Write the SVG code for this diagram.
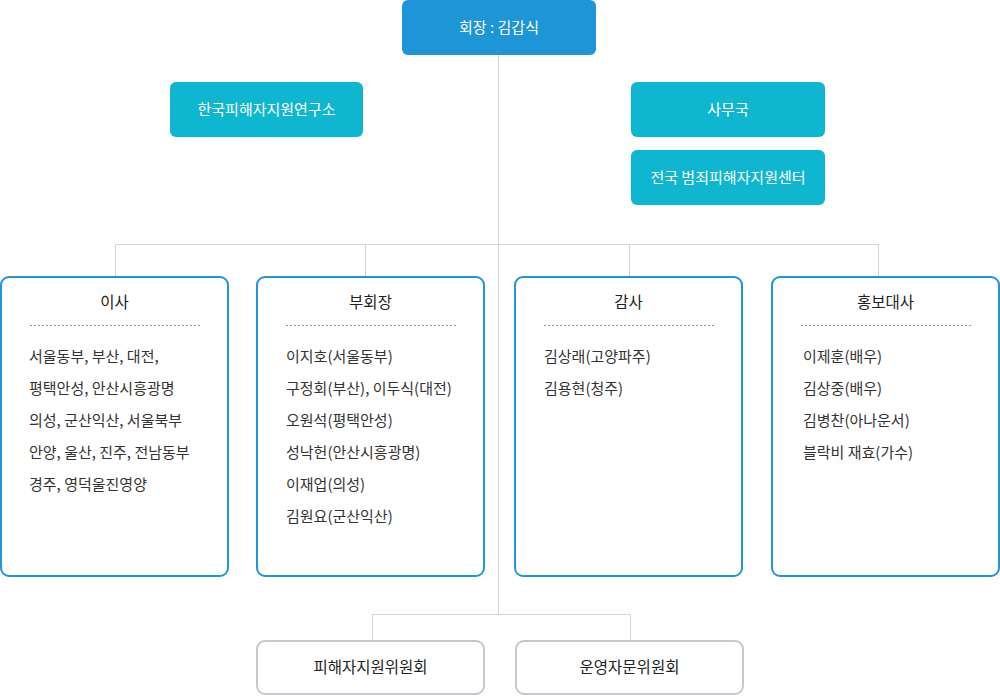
<svg xmlns="http://www.w3.org/2000/svg" width="1000" height="696" viewBox="0 0 1000 696">
<style>
text{font-family:"Noto Sans CJK KR","Noto Sans",sans-serif;font-size:15px;fill:#333}
.w{fill:#fff;text-anchor:middle;font-size:15px}
.t{text-anchor:middle;font-size:15.5px;fill:#222}
.c{fill:none;stroke:#d4d4d4;stroke-width:1}
.bb{fill:#fff;stroke:#1e95d6;stroke-width:2}
.gb{fill:#fff;stroke:#c4c7cc;stroke-width:2}
.dot{stroke:#999;stroke-width:1;stroke-dasharray:2 2}
</style>
<rect width="1000" height="696" fill="#fff"/>
<g id="connectors">
<path class="c" d="M498.5 55V614M115.5 277V244.5H878.5V277M365.5 244.5V277M629.5 244.5V277M372.5 641V614.5H630.5V641"/>
</g>
<g id="president"><rect x="402" y="0" width="194" height="55" rx="6" fill="#1e95d6"/><text class="w" x="499" y="33">회장 : 김갑식</text></g>
<g id="institute"><rect x="170" y="82" width="193" height="55" rx="6" fill="#0fb6cf"/><text class="w" x="266.5" y="115">한국피해자지원연구소</text></g>
<g id="office"><rect x="631" y="82" width="194" height="55" rx="6" fill="#0fb6cf"/><text class="w" x="728" y="115">사무국</text></g>
<g id="center"><rect x="631" y="150" width="194" height="55" rx="6" fill="#0fb6cf"/><text class="w" x="728" y="183">전국 범죄피해자지원센터</text></g>
<g id="directors"><rect class="bb" x="1" y="277" width="227" height="299" rx="8"/><text class="t" x="114.5" y="308">이사</text><line class="dot" x1="30" y1="325.5" x2="200" y2="325.5"/>
<text x="29" y="362">서울동부, 부산, 대전,</text><text x="29" y="394">평택안성, 안산시흥광명</text><text x="29" y="426">의성, 군산익산, 서울북부</text><text x="29" y="458">안양, 울산, 진주, 전남동부</text><text x="29" y="490">경주, 영덕울진영양</text></g>
<g id="vice"><rect class="bb" x="257" y="277" width="227" height="299" rx="8"/><text class="t" x="370.5" y="308">부회장</text><line class="dot" x1="286" y1="325.5" x2="456" y2="325.5"/>
<text x="286" y="362">이지호(서울동부)</text><text x="286" y="394">구정회(부산), 이두식(대전)</text><text x="286" y="426">오원석(평택안성)</text><text x="286" y="458">성낙헌(안산시흥광명)</text><text x="286" y="490">이재업(의성)</text><text x="286" y="522">김원요(군산익산)</text></g>
<g id="auditor"><rect class="bb" x="515" y="277" width="227" height="299" rx="8"/><text class="t" x="628.5" y="308">감사</text><line class="dot" x1="544" y1="325.5" x2="714" y2="325.5"/>
<text x="544" y="362">김상래(고양파주)</text><text x="544" y="394">김용현(청주)</text></g>
<g id="ambassador"><rect class="bb" x="772" y="277" width="227" height="299" rx="8"/><text class="t" x="885.5" y="308">홍보대사</text><line class="dot" x1="801" y1="325.5" x2="971" y2="325.5"/>
<text x="803" y="362">이제훈(배우)</text><text x="803" y="394">김상중(배우)</text><text x="803" y="426">김병찬(아나운서)</text><text x="803" y="458">블락비 재효(가수)</text></g>
<g id="victim-committee"><rect class="gb" x="257" y="641" width="227" height="53" rx="8"/><text class="t" x="370.5" y="673">피해자지원위원회</text></g>
<g id="advisory-committee"><rect class="gb" x="516" y="641" width="227" height="53" rx="8"/><text class="t" x="629.5" y="673">운영자문위원회</text></g>
</svg>
